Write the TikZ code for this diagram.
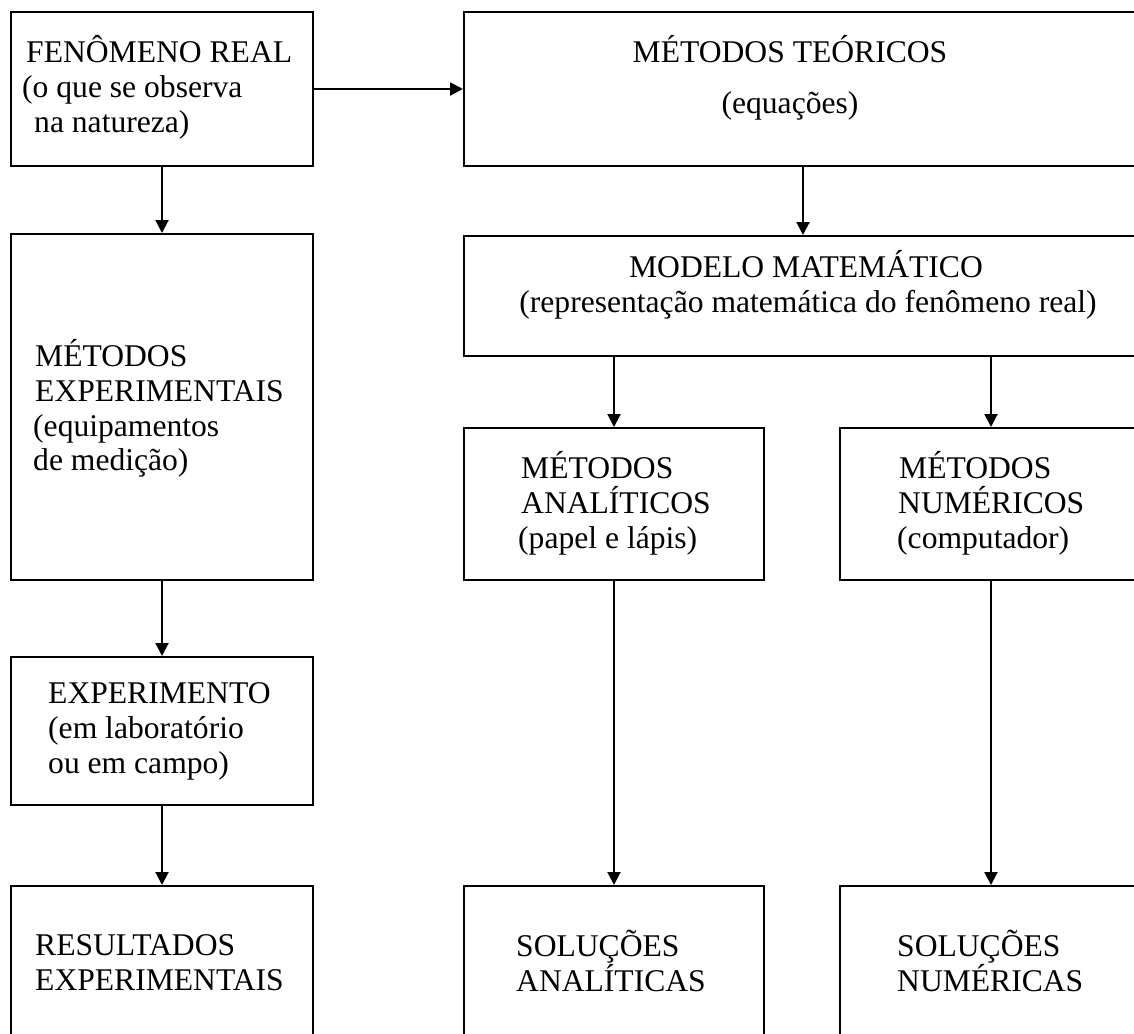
\documentclass[tikz,border=0pt]{standalone}
\usepackage{fontspec}
\setmainfont{Liberation Serif}
\usetikzlibrary{arrows.meta}
\tikzset{
  box/.style={draw, line width=2pt, inner sep=0pt, anchor=north west},
  lbl/.style={inner sep=0pt, anchor=base west, font=\fontsize{31.6}{35}\selectfont},
  clbl/.style={lbl, anchor=base},
  arr/.style={line width=2pt, -{Triangle[width=13pt,length=13pt]}}
}
\begin{document}
\begin{tikzpicture}[x=1pt,y=-1pt]
\useasboundingbox (0,0) rectangle (1134,1033);
\clip (0,0) rectangle (1134,1033);
\fill[white] (0,0) rectangle (1134,1033);
% boxes
\node[box, minimum width=302pt, minimum height=154pt] (fen) at (10,11) {};
\node[box, minimum width=678pt, minimum height=154pt] (mt) at (463,11) {};
\node[box, minimum width=302pt, minimum height=346pt] (mex) at (10,233) {};
\node[box, minimum width=678pt, minimum height=120pt] (mod) at (463,235) {};
\node[box, minimum width=300pt, minimum height=152pt] (ma) at (463,427) {};
\node[box, minimum width=302pt, minimum height=152pt] (mn) at (839,427) {};
\node[box, minimum width=302pt, minimum height=148pt] (exp) at (10,656) {};
\node[box, minimum width=302pt, minimum height=180pt] (res) at (10,885) {};
\node[box, minimum width=300pt, minimum height=180pt] (sa) at (463,885) {};
\node[box, minimum width=302pt, minimum height=180pt] (sn) at (839,885) {};
% texts
\node[lbl] (fen1) at (26,63) {FENÔMENO REAL};
\node[lbl] (fen2) at (22,97) {(o que se observa};
\node[lbl] (fen3) at (34,132) {na natureza)};
\node[clbl] (mt1) at (790,63) {MÉTODOS TEÓRICOS};
\node[clbl] (mt2) at (790,113) {(equações)};
\node[lbl] (mex1) at (35,366) {MÉTODOS};
\node[lbl] (mex2) at (35,401) {EXPERIMENTAIS};
\node[lbl] (mex3) at (33,436) {(equipamentos};
\node[lbl] (mex4) at (33,470) {de medição)};
\node[clbl] (mod1) at (806,277) {MODELO MATEMÁTICO};
\node[clbl] (mod2) at (808,312) {(representação matemática do fenômeno real)};
\node[lbl] (ma1) at (521,478) {MÉTODOS};
\node[lbl] (ma2) at (521,513) {ANALÍTICOS};
\node[lbl] (ma3) at (518,548) {(papel e lápis)};
\node[lbl] (mn1) at (899,478) {MÉTODOS};
\node[lbl] (mn2) at (898,513) {NUMÉRICOS};
\node[lbl] (mn3) at (897,548) {(computador)};
\node[lbl] (exp1) at (48,703) {EXPERIMENTO};
\node[lbl] (exp2) at (48,738) {(em laboratório};
\node[lbl] (exp3) at (48,773) {ou em campo)};
\node[lbl] (res1) at (35,955) {RESULTADOS};
\node[lbl] (res2) at (35,990) {EXPERIMENTAIS};
\node[lbl] (sa1) at (516,956) {SOLUÇÕES};
\node[lbl] (sa2) at (516,991) {ANALÍTICAS};
\node[lbl] (sn1) at (897,956) {SOLUÇÕES};
\node[lbl] (sn2) at (897,991) {NUMÉRICAS};
% connectors
\coordinate (tx) at (803,0);
\draw[arr] (fen.east) -- (mt.west);
\draw[arr] (fen.south) -- (mex.north);
\draw[arr] (mt.south -| tx) -- (mod.north -| tx);
\draw[arr] (mod.south -| ma.north) -- (ma.north);
\draw[arr] (mod.south -| mn.north) -- (mn.north);
\draw[arr] (mex.south) -- (exp.north);
\draw[arr] (exp.south) -- (res.north);
\draw[arr] (ma.south) -- (sa.north);
\draw[arr] (mn.south) -- (sn.north);
\end{tikzpicture}
\end{document}
